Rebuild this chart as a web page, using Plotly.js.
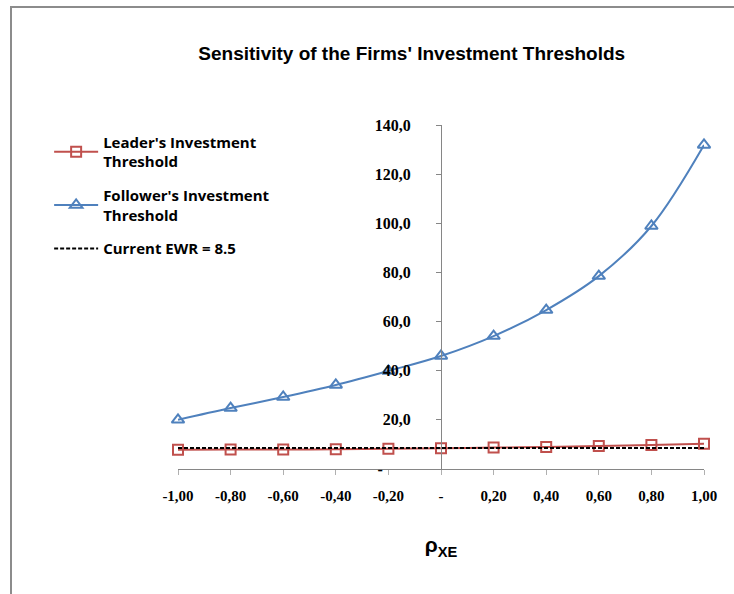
<!DOCTYPE html>
<html>
<head>
<meta charset="utf-8">
<script src="https://cdn.plot.ly/plotly-3.0.1.min.js"></script>
<style>
html,body{margin:0;padding:0;background:#fff;}
#wrap{position:relative;width:734px;height:594px;overflow:hidden;}
#chart{width:734px;height:594px;}
#frame{position:absolute;left:10px;top:6px;width:800px;height:700px;border-left:2px solid #8c8c8c;border-top:2px solid #8c8c8c;pointer-events:none;}
</style>
</head>
<body>
<div id="wrap"><div id="chart"></div><div id="frame"></div></div>
<script>
const rho = [-1.0, -0.8, -0.6, -0.4, -0.2, 0.0, 0.2, 0.4, 0.6, 0.8, 1.0];
const leader = [7.8, 7.9, 7.9, 8.0, 8.2, 8.4, 8.7, 9.0, 9.4, 9.8, 10.3];
const follower = [20.0, 24.8, 29.3, 34.2, 39.9, 46.0, 54.1, 64.7, 78.5, 98.9, 131.9];
const ewrX = [-1.0, 1.0];
const ewrY = [8.5, 8.5];
const xTickVals = [-1.0, -0.8, -0.6, -0.4, -0.2, 0.0, 0.2, 0.4, 0.6, 0.8, 1.0];
const xTickText = ["-1,00", "-0,80", "-0,60", "-0,40", "-0,20", "-", "0,20", "0,40", "0,60", "0,80", "1,00"];
const yTickVals = [0, 20, 40, 60, 80, 100, 120, 140];
const yTickText = ["-\u00a0\u00a0\u00a0\u00a0\u00a0\u00a0\u00a0", "20,0", "40,0", "60,0", "80,0", "100,0", "120,0", "140,0"];

const legFont = {family: "Open Sans, sans-serif", size: 15, color: "#000", weight: "bold"};

const traces = [
  {x: rho, y: leader, name: "Leader's Investment<br>Threshold", type: "scatter", mode: "lines+markers",
   line: {color: "#C0504D", width: 2, shape: "spline"},
   marker: {symbol: "square-open", size: 10, color: "#C0504D", line: {width: 2, color: "#C0504D"}},
   cliponaxis: false, legend: "legend"},
  {x: rho, y: follower, name: "Follower's Investment<br>Threshold", type: "scatter", mode: "lines+markers",
   line: {color: "#4F81BD", width: 2, shape: "spline"},
   marker: {symbol: "triangle-up-open", size: 11, color: "#4F81BD", line: {width: 2, color: "#4F81BD"}},
   cliponaxis: false, legend: "legend2"},
  {x: ewrX, y: ewrY, name: "Current EWR = 8.5", type: "scatter", mode: "lines",
   line: {color: "#000000", width: 2, dash: "4px,2px"}, cliponaxis: false, legend: "legend3"}
];

function leg(y) {
  return {x: -0.245, xanchor: "left", y: y, yanchor: "top", bgcolor: "rgba(0,0,0,0)",
          font: legFont, itemwidth: 44};
}

const layout = {
  width: 734, height: 594,
  margin: {l: 178, r: 30, t: 125, b: 125},
  paper_bgcolor: "#ffffff", plot_bgcolor: "#ffffff",
  showlegend: true,
  title: {text: "Sensitivity of the Firms' Investment Thresholds",
          font: {family: "Liberation Sans, Arial, sans-serif", size: 19, color: "#000", weight: "bold"},
          x: 0.561, xanchor: "center", y: 0.91, yanchor: "middle"},
  xaxis: {range: [-1, 1], tickvals: xTickVals, ticktext: xTickText, showgrid: false, zeroline: false,
          showline: true, linecolor: "#868686", linewidth: 1, ticks: "outside", ticklen: 5, tickcolor: "#b0b0b0",
          tickfont: {family: "Liberation Serif, serif", size: 15, color: "#000", weight: "bold"},
          ticklabelstandoff: 8,
          title: {text: "ρ<sub>XE</sub>", font: {family: "Liberation Sans, Arial, sans-serif", size: 21, color: "#000", weight: "bold"}, standoff: 34}},
  yaxis: {range: [0, 140], tickvals: yTickVals, ticktext: yTickText, showgrid: false, zeroline: false,
          anchor: "free", position: 0.5,
          showline: true, linecolor: "#868686", linewidth: 1, ticks: "outside", ticklen: 5, tickcolor: "#868686",
          tickfont: {family: "Liberation Serif, serif", size: 16, color: "#000", weight: "bold"},
          ticklabelstandoff: 22},
  legend: leg(0.998),
  legend2: leg(0.843),
  legend3: leg(0.688)
};

Plotly.newPlot("chart", traces, layout, {displayModeBar: false, staticPlot: true});
</script>
</body>
</html>
